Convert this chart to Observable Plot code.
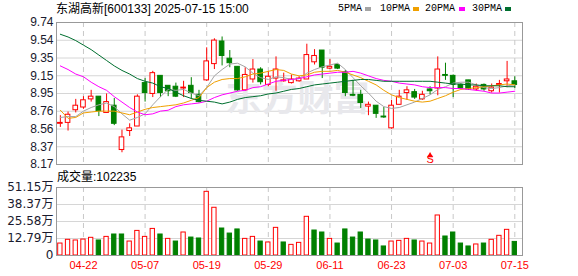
<!DOCTYPE html>
<html>
<head>
<meta charset="utf-8">
<script src="https://cdn.jsdelivr.net/npm/d3@7"></script>
<script src="https://cdn.jsdelivr.net/npm/@observablehq/plot@0.6"></script>
<style>
  html, body { margin: 0; padding: 0; background: #fff; }
  body { width: 578px; height: 276px; overflow: hidden; position: relative;
         font-family: "Liberation Sans", Arial, "Noto Sans CJK SC", sans-serif; color: #000; }
  #title { position: absolute; left: 56px; top: 3px; font-size: 12px; line-height: 12px; white-space: nowrap; }
  #legend { position: absolute; left: 0; top: 0; width: 578px; height: 20px; }
  .lg-text { position: absolute; top: 4px; font-family: "Liberation Mono", monospace; font-size: 10px; line-height: 10px; white-space: nowrap; }
  .lg-sw { position: absolute; top: 7px; width: 6px; height: 4px; }
  #main { position: absolute; left: 0; top: 0; }
  #vol { position: absolute; left: 0; top: 170px; }
  #volTitle { position: absolute; left: 57px; top: 171px; font-size: 12px; line-height: 12px; white-space: nowrap; }
</style>
</head>
<body>
<div id="main"></div>
<div id="vol"></div>
<div id="title"></div>
<div id="legend"></div>
<div id="volTitle"></div>
<script>
// ---------------- data ----------------
const stockTitle = "东湖高新[600133] 2025-07-15 15:00";
const dates = ["04-17","04-18","04-21","04-22","04-23","04-24","04-25","04-28","04-29","04-30",
  "05-06","05-07","05-08","05-09","05-12","05-13","05-14","05-15","05-16","05-19",
  "05-20","05-21","05-22","05-23","05-26","05-27","05-28","05-29","05-30","06-03",
  "06-04","06-05","06-06","06-09","06-10","06-11","06-12","06-13","06-16","06-17",
  "06-18","06-19","06-20","06-23","06-24","06-25","06-26","06-27","06-30","07-01",
  "07-02","07-03","07-04","07-07","07-08","07-09","07-10","07-11","07-14","07-15"];
const openP = [8.62,8.63,8.77,8.80,8.89,8.92,8.74,8.82,8.33,8.54,
  8.59,9.07,8.95,9.15,9.04,9.03,9.01,9.04,8.94,9.10,
  9.28,9.53,9.34,9.25,8.99,9.11,9.22,9.05,9.12,9.09,
  9.07,9.09,9.11,9.30,9.43,9.23,9.27,9.19,8.94,8.94,
  8.81,8.82,8.70,8.57,8.83,8.96,8.97,8.89,9.00,9.01,
  9.16,9.15,9.05,9.10,9.00,9.05,8.98,9.05,9.09,9.09];
const highP = [8.71,8.75,8.89,8.92,8.99,8.92,8.95,8.90,8.55,8.62,
  8.94,9.12,9.20,9.15,9.04,9.07,9.09,9.13,8.99,9.46,
  9.56,9.58,9.43,9.25,9.24,9.33,9.24,9.20,9.36,9.18,
  9.16,9.14,9.50,9.44,9.43,9.33,9.28,9.21,9.10,8.99,
  8.86,8.82,8.80,8.88,8.99,9.03,9.00,8.98,9.03,9.36,
  9.29,9.16,9.06,9.10,9.06,9.06,9.06,9.10,9.31,9.14];
const lowP = [8.58,8.54,8.74,8.78,8.86,8.70,8.74,8.60,8.30,8.48,
  8.59,8.86,8.91,8.91,8.92,8.91,8.91,8.89,8.85,9.09,
  9.22,9.26,9.24,8.98,8.98,9.07,9.05,9.03,8.98,9.08,
  9.06,9.08,9.11,9.27,9.12,9.22,9.22,8.92,8.92,8.79,
  8.71,8.68,8.68,8.56,8.83,8.88,8.89,8.88,8.94,8.93,
  9.10,8.91,9.00,8.99,8.98,8.98,8.96,8.96,9.02,9.01];
const closeP = [8.63,8.72,8.82,8.88,8.92,8.76,8.86,8.62,8.47,8.57,
  8.92,8.96,9.18,8.96,8.98,8.92,9.02,8.96,8.86,9.31,
  9.54,9.37,9.29,8.99,9.16,9.22,9.08,9.14,9.22,9.10,
  9.11,9.12,9.38,9.37,9.24,9.25,9.23,8.96,8.93,8.85,
  8.83,8.73,8.69,8.82,8.92,8.99,8.91,8.94,8.98,9.22,
  9.15,9.05,9.01,9.00,9.03,9.00,9.02,9.06,9.11,9.05];
const volume = [90000,118000,113000,120000,133000,113000,140000,158000,158000,105000,
  185000,140000,200000,158000,125000,105000,173000,135000,128000,479000,
  359000,203000,165000,196000,125000,140000,105000,98000,208000,98000,
  80000,95000,291000,188000,173000,125000,90000,196000,135000,173000,
  120000,113000,68000,105000,110000,125000,113000,105000,90000,301000,
  143000,173000,90000,68000,83000,90000,118000,148000,193000,102235];
const ma5 = [8.69,8.70,8.70,8.76,8.80,8.83,8.85,8.81,8.73,8.66,
  8.69,8.73,8.83,8.92,9.00,8.99,9.00,8.96,8.93,9.02,
  9.15,9.22,9.28,9.29,9.25,9.18,9.13,9.11,9.14,9.13,
  9.11,9.12,9.18,9.22,9.25,9.27,9.29,9.22,9.13,9.04,
  8.96,8.87,8.81,8.79,8.80,8.83,8.86,8.90,8.94,9.00,
  9.03,9.07,9.08,9.08,9.05,9.02,9.01,9.02,9.04,9.05];
const ma10 = [8.77,8.68,8.69,8.74,8.75,8.76,8.76,8.76,8.74,8.72,
  8.75,8.78,8.80,8.81,8.82,8.83,8.85,8.88,8.91,9.02,
  9.08,9.11,9.12,9.12,9.14,9.17,9.18,9.20,9.22,9.21,
  9.17,9.15,9.16,9.19,9.20,9.20,9.21,9.19,9.16,9.13,
  9.09,9.05,8.99,8.94,8.91,8.89,8.87,8.86,8.87,8.90,
  8.93,8.97,9.00,9.01,9.02,9.03,9.04,9.05,9.06,9.05];
const ma20 = [9.26,9.22,9.17,9.14,9.08,9.03,8.99,8.92,8.86,8.80,
  8.75,8.72,8.73,8.76,8.77,8.81,8.83,8.84,8.85,8.87,
  8.91,8.94,8.96,8.98,8.99,9.02,9.03,9.06,9.09,9.10,
  9.11,9.12,9.14,9.16,9.17,9.18,9.19,9.19,9.20,9.18,
  9.15,9.12,9.10,9.09,9.07,9.06,9.05,9.03,9.02,9.02,
  9.02,9.01,9.01,9.00,8.99,8.98,8.96,8.96,8.97,8.98];
const ma30 = [9.61,9.58,9.54,9.49,9.44,9.38,9.32,9.26,9.21,9.17,
  9.12,9.09,9.07,9.03,9.01,8.97,8.93,8.90,8.88,8.87,
  8.86,8.84,8.86,8.89,8.91,8.92,8.93,8.95,8.96,8.98,
  9.00,9.01,9.03,9.05,9.06,9.07,9.08,9.09,9.10,9.11,
  9.11,9.10,9.09,9.09,9.09,9.09,9.09,9.09,9.09,9.08,
  9.07,9.06,9.06,9.05,9.05,9.04,9.04,9.04,9.03,9.03];
const maNames = ["5PMA","10PMA","20PMA","30PMA"];
const maColors = ["#a4a4a4","#f0a000","#ff00ff","#006f2f"];
const yTickLabels = ["8.17","8.37","8.56","8.76","8.95","9.15","9.35","9.54","9.74"];
const volTickLabels = ["0","12.79万","25.58万","38.37万","51.15万"];
const xTickLabels = ["04-22","05-07","05-19","05-29","06-11","06-23","07-03","07-15"];
const signals = [{date: "06-30", text: "S"}];
const volTitleLabel = "成交量";
const watermark = "东方财富";

// ---------------- build ----------------
const RED = "#ff0000", GREEN = "#008000";
const rows = dates.map((d, i) => ({
  i, date: d, open: openP[i], high: highP[i], low: lowP[i], close: closeP[i], vol: volume[i],
  up: closeP[i] >= openP[i],
  volUp: i === 0 ? closeP[i] >= openP[i] : closeP[i] >= closeP[i - 1],
  ma5: ma5[i], ma10: ma10[i], ma20: ma20[i], ma30: ma30[i]
}));
const maKeys = ["ma5","ma10","ma20","ma30"];

const yMin = +yTickLabels[0], yMax = +yTickLabels[yTickLabels.length - 1];
const yTickVals = yTickLabels.map((_, k) => yMin + k * (yMax - yMin) / (yTickLabels.length - 1));
const yLabelMap = new Map(yTickVals.map((v, k) => [v, yTickLabels[k]]));
const volMax = parseFloat(volTickLabels[volTickLabels.length - 1]) * 10000;
const volTickVals = volTickLabels.map((_, k) => k * volMax / (volTickLabels.length - 1));
const volLabelMap = new Map(volTickVals.map((v, k) => [v, volTickLabels[k]]));
const tickIdx = xTickLabels.map(l => dates.indexOf(l));
const xDomain = [-0.5, dates.length];
const HALF = 0.3, VHALF = 0.28;
const FONT = '"Liberation Sans", Arial, "Noto Sans CJK SC", sans-serif';

const upRows = rows.filter(d => d.up), downRows = rows.filter(d => !d.up);

const mainPlot = Plot.plot({
  width: 578, height: 170,
  marginLeft: 56, marginRight: 56, marginTop: 22, marginBottom: 6,
  x: {type: "linear", domain: xDomain, axis: null, label: null},
  y: {domain: [yMin, yMax], axis: null, label: null},
  style: {fontFamily: FONT, fontSize: "12px", background: "transparent", overflow: "visible"},
  marks: [
    Plot.ruleY(yTickVals.slice(1, -1), {stroke: "#d6d6d6"}),
    Plot.ruleX(tickIdx, {stroke: "#c8c8c8", strokeDasharray: "5,4"}),
    Plot.text([watermark], {text: d => d, frameAnchor: "middle", dx: 8, dy: 6, fontSize: 36, fontWeight: "bold",
      fill: "#e8e8ec", fontFamily: '"Noto Sans CJK SC", sans-serif'}),
    Plot.ruleX(upRows, {x: "i", y1: "low", y2: "high", stroke: RED}),
    Plot.ruleX(downRows, {x: "i", y1: "low", y2: "high", stroke: GREEN}),
    Plot.rect(upRows, {x1: d => d.i - HALF, x2: d => d.i + HALF, y1: "open", y2: "close", fill: "#fff", stroke: RED}),
    Plot.rect(downRows, {x1: d => d.i - HALF, x2: d => d.i + HALF, y1: "open", y2: "close", fill: GREEN, stroke: GREEN}),
    ...maKeys.map((k, j) => Plot.line(rows, {x: "i", y: k, stroke: maColors[j], strokeWidth: 1})),
    Plot.dot(signals, {x: d => dates.indexOf(d.date), frameAnchor: "bottom", dy: -9, symbol: "triangle", r: 2.2, fill: RED, stroke: "none"}),
    Plot.text(signals, {x: d => dates.indexOf(d.date), frameAnchor: "bottom", dy: -2, text: "text", fill: RED, fontSize: 11}),
    Plot.axisY({ticks: yTickVals, tickFormat: d => yLabelMap.get(d), tickSize: 0, tickPadding: 3, fontSize: 12, fill: "#1a1a2e", label: null}),
    Plot.frame({stroke: "#999"})
  ]
});
document.getElementById("main").appendChild(mainPlot);

const volUp = rows.filter(d => d.volUp), volDown = rows.filter(d => !d.volUp);
const volPlot = Plot.plot({
  width: 578, height: 106,
  marginLeft: 56, marginRight: 56, marginTop: 17, marginBottom: 21,
  x: {type: "linear", domain: xDomain, axis: null, label: null},
  y: {domain: [0, volMax], axis: null, label: null},
  style: {fontFamily: FONT, fontSize: "12px", background: "transparent", overflow: "visible"},
  marks: [
    Plot.ruleY(volTickVals.slice(1, -1), {stroke: "#d6d6d6"}),
    Plot.ruleX(tickIdx, {stroke: "#c8c8c8", strokeDasharray: "5,4"}),
    Plot.rect(volUp, {x1: d => d.i - VHALF, x2: d => d.i + VHALF, y1: 0, y2: "vol", fill: "#fff", stroke: RED}),
    Plot.rect(volDown, {x1: d => d.i - VHALF, x2: d => d.i + VHALF, y1: 0, y2: "vol", fill: GREEN, stroke: GREEN}),
    Plot.axisY({ticks: volTickVals, tickFormat: d => volLabelMap.get(d), tickSize: 0, tickPadding: 3, fontSize: 12,
      fill: "#1a1a2e", fontFamily: '"DejaVu Sans", "Noto Sans CJK SC", sans-serif', label: null}),
    Plot.axisX({ticks: tickIdx, tickFormat: d => dates[d], tickSize: 0, tickPadding: 6, fontSize: 11, fill: RED, label: null}),
    Plot.frame({stroke: "#999"})
  ]
});
document.getElementById("vol").appendChild(volPlot);

document.getElementById("title").textContent = stockTitle;
document.getElementById("volTitle").textContent = volTitleLabel + ":" + volume[volume.length - 1];

// legend
const legend = document.getElementById("legend");
const lgTextX = [338, 380, 425, 472];
const lgSwX = [365, 413, 459, 505];
maNames.forEach((name, j) => {
  const t = document.createElement("span");
  t.className = "lg-text"; t.style.left = lgTextX[j] + "px"; t.textContent = name;
  legend.appendChild(t);
  const s = document.createElement("span");
  s.className = "lg-sw"; s.style.left = lgSwX[j] + "px"; s.style.background = maColors[j];
  legend.appendChild(s);
});
</script>
</body>
</html>
